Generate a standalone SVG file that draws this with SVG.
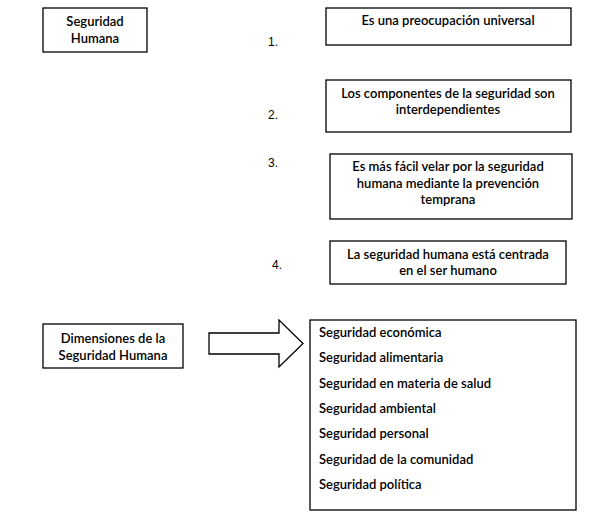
<svg xmlns="http://www.w3.org/2000/svg" width="593" height="512" viewBox="0 0 593 512">
<style>
.box{fill:#fff;stroke:#000;stroke-width:1.3}
.t{font-family:Lato,"Open Sans","Liberation Sans",sans-serif;font-size:13px;font-weight:600;fill:#000}
.c{text-anchor:middle}
.n{font-family:"Liberation Sans",Arial,sans-serif;font-size:12px;fill:#000}
</style>
<rect width="593" height="512" fill="#fff"/>
<g id="seguridad-humana">
<rect class="box" x="43" y="8" width="104" height="44"/>
<text class="t c" x="95" y="26">Seguridad</text>
<text class="t c" x="95" y="43">Humana</text>
</g>
<g id="num1"><text class="n" x="268" y="46">1.</text></g>
<g id="item1">
<rect class="box" x="326" y="8" width="245" height="37"/>
<text class="t c" x="448" y="25">Es una preocupación universal</text>
</g>
<g id="num2"><text class="n" x="268" y="119">2.</text></g>
<g id="item2">
<rect class="box" x="326" y="80" width="245" height="52"/>
<text class="t c" x="448" y="98">Los componentes de la seguridad son</text>
<text class="t c" x="448" y="114">interdependientes</text>
</g>
<g id="num3"><text class="n" x="268" y="167">3.</text></g>
<g id="item3">
<rect class="box" x="330" y="154" width="242" height="65"/>
<text class="t c" x="448" y="171">Es más fácil velar por la seguridad</text>
<text class="t c" x="448" y="188">humana mediante la prevención</text>
<text class="t c" x="448" y="204">temprana</text>
</g>
<g id="num4"><text class="n" x="272" y="269">4.</text></g>
<g id="item4">
<rect class="box" x="330" y="241" width="236" height="43"/>
<text class="t c" x="448" y="259">La seguridad humana está centrada</text>
<text class="t c" x="448" y="275">en el ser humano</text>
</g>
<g id="dimensiones">
<rect class="box" x="43" y="324" width="140" height="44"/>
<text class="t c" x="113" y="343">Dimensiones de la</text>
<text class="t c" x="113" y="360">Seguridad Humana</text>
</g>
<g id="connectors">
<path class="box" d="M209 333 H279 V320 L303 343.5 L279 367 V354 H209 Z" stroke-width="1"/>
</g>
<g id="dimensiones-lista">
<rect class="box" x="310" y="320" width="266" height="190"/>
<text class="t" x="319" y="337">Seguridad económica</text>
<text class="t" x="319" y="362">Seguridad alimentaria</text>
<text class="t" x="319" y="387.5">Seguridad en materia de salud</text>
<text class="t" x="319" y="413">Seguridad ambiental</text>
<text class="t" x="319" y="438">Seguridad personal</text>
<text class="t" x="319" y="463.5">Seguridad de la comunidad</text>
<text class="t" x="319" y="489">Seguridad política</text>
</g>
</svg>
